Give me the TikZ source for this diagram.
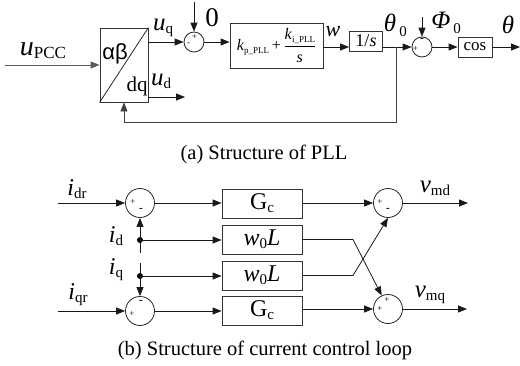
\documentclass[tikz,border=0pt]{standalone}
\usepackage{fontspec}
\setmainfont{Liberation Serif}
\newfontfamily\grsans{Liberation Sans}
\usetikzlibrary{arrows.meta}
\newcommand\fs[1]{\fontsize{#1}{#1}\selectfont}
\newcommand\VV[4]{{\fs{#3}\textit{#1}}\raisebox{-3pt}{\fs{#4}#2}}
\begin{document}
\begin{tikzpicture}[x=1pt,y=-1pt,line width=0.8pt,
  box/.style={draw=black!80,line width=0.8pt,inner sep=0pt},
  sumc/.style={circle,draw=black!85,line width=0.8pt,inner sep=0pt},
  arr/.style={draw=black!90,-{Triangle[length=9pt,width=7pt]}},
  dot/.style={circle,fill=black,inner sep=0pt,minimum size=6pt},
  lbl/.style={inner sep=0pt},
  sg/.style={inner sep=0pt,font=\fs{9}},
  sgm/.style={inner sep=0pt,font=\fs{11}\bfseries}]
\useasboundingbox (0,0) rectangle (520,365);
% ---------- PLL ----------
\node[box,minimum width=48pt,minimum height=74pt] (T) at (124,65) {};
\draw[black!85] (T.south west) -- (T.north east);
\node[lbl] (ab) at (115,54) {\grsans\fs{22}αβ};
\node[lbl] (dq) at (137,86) {\fs{21}dq};
\coordinate (uin) at (5,65);
\draw[arr,draw=black!65] (uin) -- (T.west);
\node[lbl] (upcc) at (43,51) {\VV{u}{PCC}{28}{17}};
\node[sumc,minimum size=20pt] (s1) at (194,42) {};
\node[sg] (s1p) at (194.5,37) {+};
\node[sg] (s1m) at (188.5,44) {-};
\draw[arr] (T.east |- s1) -- (s1.west);
\node[lbl] (uq) at (163,28) {\VV{u}{q}{25}{15}};
\coordinate (udend) at (185,97);
\draw[arr] (T.east |- udend) -- (udend);
\node[lbl] (ud) at (161,81) {\VV{u}{d}{25}{15}};
\coordinate (zin) at (194,2);
\draw[arr] (zin) -- (s1.north);
\node[lbl] (zero) at (212,18) {\fs{27}0};
\node[box,minimum width=93pt,minimum height=45pt] (PI) at (276.5,45.5)
  {\fs{16}\textit{k}\raisebox{-3pt}{\fs{9}p\_PLL}\,+\,$\displaystyle\frac{\hbox{\fs{16}\textit{k}\raisebox{-3pt}{\fs{9}i\_PLL}}}{\hbox{\fs{16}\textit{s}}}$};
\draw[arr] (s1.east) -- (s1 -| PI.west);
\coordinate (yw) at (0,47);
\node[box,minimum width=33pt,minimum height=20pt] (I) at (366,41) {\fs{18}1/\textit{s}};
\draw[arr] (PI.east |- yw) -- (I.west |- yw);
\node[lbl] (w) at (333,32) {\fs{22}\textit{w}};
\node[sumc,minimum size=20pt] (s2) at (422,47) {};
\node[sgm] (s2m) at (422,40) {-};
\node[sg] (s2p) at (415.5,49) {+};
\coordinate (br) at (396,47);
\draw[arr] (I.east |- yw) -- (s2.west);
\node[lbl] (th0) at (390,23) {\fs{25}\textit{θ}};
\node[lbl] (th0s) at (403,32) {\fs{15}0};
\coordinate (phin) at (422,17);
\draw[arr] (phin) -- (s2.north);
\node[lbl] (phi) at (441,20) {\fs{25}\textit{Φ}};
\node[lbl] (phis) at (457,29) {\fs{15}0};
\node[box,minimum width=34pt,minimum height=20pt] (cos) at (475,47) {\fs{17}cos};
\draw[arr] (s2.east) -- (cos.west);
\coordinate (thout) at (520,47);
\draw[arr] (cos.east) -- (thout);
\node[lbl] (th) at (508,25) {\fs{25}\textit{θ}};
\coordinate (fb1) at (396,122);
\draw[arr,draw=black!75] (br) -- (fb1) -| (T.south);
\node[lbl] (capa) at (264,154) {\fs{20.5}(a) Structure of PLL};
% ---------- current loop ----------
\node[sumc,minimum size=29pt] (s3) at (140,203) {};
\node[sumc,minimum size=29pt] (s4) at (140,311) {};
\node[sumc,minimum size=29pt] (s5) at (388,203) {};
\node[sumc,minimum size=29pt] (s6) at (388,309) {};
\node[sg] (s3p) at (133,202) {+};
\node[sgm] (s3m) at (141,210) {-};
\node[sg] (s4p) at (132,314) {+};
\node[sgm] (s4m) at (141,302) {-};
\node[sg] (s5p) at (380,202) {+};
\node[sgm] (s5m) at (388,210) {-};
\node[sg] (s6a) at (387,300) {+};
\node[sg] (s6b) at (380,309) {+};
\node[box,minimum width=80pt,minimum height=29pt] (G1) at (262,203.5) {\fs{24}G\raisebox{-3pt}{\fs{15}c}};
\node[box,minimum width=80pt,minimum height=29pt] (W1) at (262,239.5) {\fs{24}\textit{w}\raisebox{-3pt}{\fs{15}0}\textit{L}};
\node[box,minimum width=80pt,minimum height=29pt] (W2) at (262,275.5) {\fs{24}\textit{w}\raisebox{-3pt}{\fs{15}0}\textit{L}};
\node[box,minimum width=80pt,minimum height=29pt] (G2) at (262,310.5) {\fs{24}G\raisebox{-3pt}{\fs{15}c}};
\coordinate (idr) at (58,203);
\coordinate (iqr) at (58,311);
\draw[arr] (idr) -- (s3.west);
\draw[arr] (iqr) -- (s4.west);
\draw[arr] (s3.east) -- (G1.west |- s3);
\draw[arr] (s4.east) -- (G2.west |- s4);
\draw[arr] (G1.east |- s5) -- (s5.west);
\draw[arr] (G2.east |- s6) -- (s6.west);
\node[dot] (dd) at (140,240) {};
\node[dot] (dqd) at (140,276) {};
\coordinate (ddb) at (140,253);
\coordinate (dqt) at (140,263);
\draw[arr] (ddb) -- (s3.south);
\draw[arr] (dqt) -- (s4.north);
\draw[arr] (dd.center) -- (W1.west |- dd);
\draw[arr] (dqd.center) -- (W2.west |- dqd);
\coordinate (c1) at (353,239.5);
\coordinate (c2) at (353,275.5);
\draw[arr] (W1.east) -- (c1) -- (s6.115);
\draw[arr] (W2.east) -- (c2) -- (s5.south);
\coordinate (vmd) at (468,203);
\coordinate (vmq) at (467,309);
\draw[arr] (s5.east) -- (vmd);
\draw[arr] (s6.east) -- (vmq);
\node[lbl] (lidr) at (77,189) {\VV{i}{dr}{24}{15}};
\node[lbl] (lid) at (116,236) {\VV{i}{d}{24}{15}};
\node[lbl] (liq) at (116,270) {\VV{i}{q}{24}{15}};
\node[lbl] (liqr) at (78,295) {\VV{i}{qr}{24}{15}};
\node[lbl] (lvmd) at (435,188) {\VV{v}{md}{25}{15}};
\node[lbl] (lvmq) at (430,295) {\VV{v}{mq}{25}{15}};
\node[lbl] (capb) at (265,350) {\fs{20.5}(b) Structure of current control loop};
\end{tikzpicture}
\end{document}
